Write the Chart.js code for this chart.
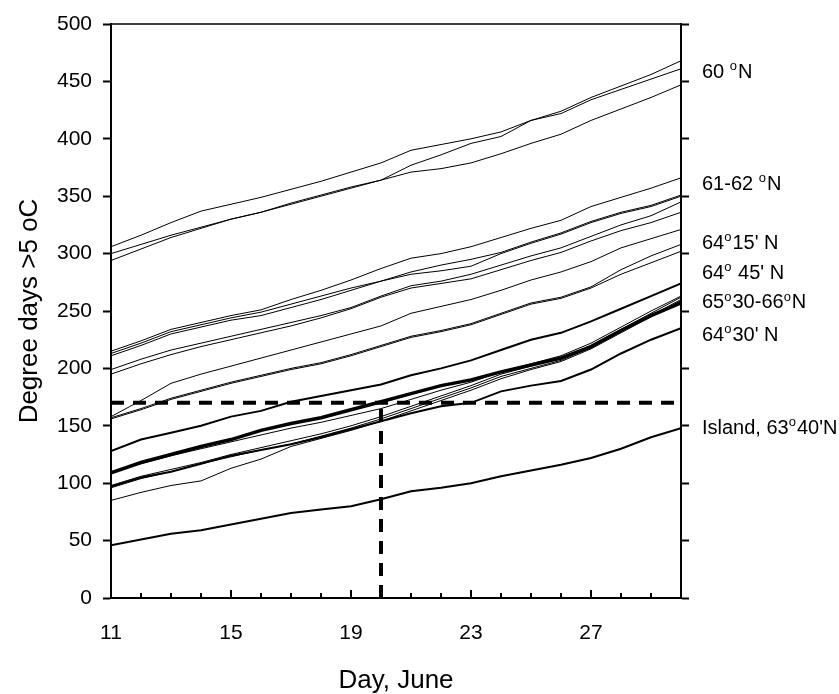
<!DOCTYPE html>
<html>
<head>
<meta charset="utf-8">
<title>Degree days</title>
<script src="https://cdn.jsdelivr.net/npm/chart.js@4.4.1/dist/chart.umd.min.js"></script>
<style>
  html, body { margin: 0; padding: 0; background: #fff; }
  #wrap { position: relative; width: 839px; height: 694px; }
</style>
</head>
<body>
<div id="wrap"><canvas id="degreeChart"></canvas></div>
<script>
// Days of June on the x axis
const days = [11, 12, 13, 14, 15, 16, 17, 18, 19, 20, 21, 22, 23, 24, 25, 26, 27, 28, 29, 30];
const dayLabels = [11, 15, 19, 23, 27];
const yTicks = [0, 50, 100, 150, 200, 250, 300, 350, 400, 450, 500];

// 60 N
const lat60a = [306, 316, 327, 337, 343, 349, 356, 363, 371, 379, 390, 395, 400, 406, 416, 424, 436, 446, 456, 468];
const lat60b = [300, 308, 316, 323, 330, 336, 344, 351, 358, 364, 377, 386, 396, 402, 416, 422, 434, 443, 452, 461];
const lat60c = [294, 304, 314, 322, 330, 336, 343, 350, 357, 364, 371, 374, 379, 387, 396, 404, 416, 426, 436, 447];
// 61-62 N
const lat61a = [215, 224, 234, 240, 246, 251, 260, 268, 277, 287, 296, 300, 306, 314, 322, 329, 341, 349, 357, 366];
const lat61b = [213, 222, 232, 238, 244, 249, 256, 263, 270, 276, 284, 290, 295, 301, 310, 318, 328, 336, 342, 351];
const lat61c = [211, 220, 230, 236, 242, 246, 253, 260, 268, 276, 282, 285, 289, 300, 309, 317, 327, 335, 341, 350];
const lat61d = [199, 208, 216, 222, 228, 234, 240, 246, 253, 263, 272, 276, 282, 290, 298, 305, 315, 325, 333, 345];
const lat61e = [195, 204, 212, 219, 225, 231, 237, 244, 252, 262, 270, 274, 278, 286, 294, 301, 311, 320, 327, 336];
// 64 15' N
const lat6415a = [158, 172, 187, 195, 202, 209, 216, 223, 230, 237, 248, 254, 260, 268, 277, 284, 293, 305, 313, 321];
const lat6415b = [157, 165, 174, 181, 188, 194, 200, 205, 212, 220, 228, 233, 239, 248, 257, 262, 271, 286, 298, 308];
const lat6415c = [156, 164, 173, 180, 187, 193, 199, 204, 211, 219, 227, 232, 238, 247, 256, 261, 270, 282, 292, 302];
// 64 45' N
const lat6445 = [128, 138, 144, 150, 158, 163, 171, 176, 181, 186, 194, 200, 207, 216, 225, 231, 241, 252, 263, 274];
// 65 30' - 66 N
const lat65mean = [109, 118, 125, 132, 138, 146, 152, 157, 164, 171, 178, 185, 190, 197, 203, 209, 219, 233, 246, 257];
const lat65a = [110, 117, 124, 130, 136, 142, 148, 153, 159, 165, 173, 181, 188, 197, 204, 211, 222, 236, 250, 263];
const lat65b = [98, 106, 112, 118, 125, 131, 137, 143, 150, 158, 167, 176, 185, 195, 202, 209, 220, 234, 248, 262];
const lat65c = [96, 104, 110, 117, 123, 129, 134, 141, 148, 156, 165, 174, 183, 193, 200, 207, 218, 232, 246, 260];
const lat65d = [85, 92, 98, 102, 113, 121, 132, 139, 146, 154, 163, 172, 181, 191, 199, 206, 217, 231, 245, 259];
// 64 30' N
const lat6430 = [97, 105, 110, 117, 124, 129, 134, 140, 147, 154, 161, 167, 170, 180, 185, 189, 199, 213, 225, 235];
// Island, 63 40' N
const island = [46, 51, 56, 59, 64, 69, 74, 77, 80, 86, 93, 96, 100, 106, 111, 116, 122, 130, 140, 148];

// guide: 170 degree days reached on 20 June
const guideDay = 20;
const guideValue = 170;

// right-hand labels, "^o" = raised small o
const rightLabels = ['60 ^oN', '61-62 ^oN', "64^o15' N", "64^o 45' N", '65^o30-66^oN', "64^o30' N", "Island, 63^o40'N"];

const FONT = "'Liberation Sans', Arial, sans-serif";

function toPoints(values) {
  return values.map((v, i) => ({ x: days[i], y: v }));
}

function lineSet(values, width) {
  return {
    data: toPoints(values),
    borderColor: '#000',
    borderWidth: width,
    pointRadius: 0,
    tension: 0,
    fill: false
  };
}

function guideSets() {
  const dash = {
    borderColor: '#000',
    borderWidth: 4,
    borderDash: [13, 9],
    pointRadius: 0,
    fill: false
  };
  return [
    Object.assign({ data: [{ x: days[0], y: guideValue }, { x: days[days.length - 1], y: guideValue }] }, dash),
    Object.assign({ data: [{ x: guideDay, y: 0 }, { x: guideDay, y: guideValue }] }, dash)
  ];
}

// top border, inward day ticks and the latitude labels
const framePlugin = {
  id: 'frame',
  afterDraw(chart) {
    const ctx = chart.ctx;
    const area = chart.chartArea;
    const xs = chart.scales.x;
    const ys = chart.scales.y;
    ctx.save();
    ctx.strokeStyle = '#000';
    ctx.lineWidth = 1.5;
    ctx.beginPath();
    ctx.moveTo(area.left, area.top);
    ctx.lineTo(area.right, area.top);
    ctx.stroke();

    ctx.lineWidth = 2;
    days.forEach(d => {
      const px = Math.round(xs.getPixelForValue(d));
      const len = dayLabels.includes(d) ? 8 : 5;
      ctx.beginPath();
      ctx.moveTo(px, area.bottom);
      ctx.lineTo(px, area.bottom - len);
      ctx.stroke();
    });

    const labelAt = [458, 360, 309, 283, 257, 229, 148];
    ctx.fillStyle = '#000';
    ctx.textBaseline = 'middle';
    rightLabels.forEach((txt, i) => {
      let x = area.right + 21;
      const y = ys.getPixelForValue(labelAt[i]);
      txt.split('^o').forEach((part, j) => {
        if (j > 0) {
          ctx.font = '13px ' + FONT;
          ctx.fillText('o', x, y - 6);
          x += ctx.measureText('o').width + 1;
        }
        ctx.font = '20px ' + FONT;
        ctx.fillText(part, x, y);
        x += ctx.measureText(part).width;
      });
    });
    ctx.restore();
  }
};

const datasets = [].concat(
  guideSets(),
  [lat60a, lat60b, lat60c, lat61a, lat61b, lat61c, lat61d, lat61e,
   lat6415a, lat6415b, lat6415c, lat65a, lat65b, lat65c, lat65d].map(v => lineSet(v, 1)),
  [lineSet(lat6445, 2), lineSet(lat6430, 2), lineSet(island, 2), lineSet(lat65mean, 3.5)]
);

Chart.defaults.color = '#000';
Chart.defaults.font.family = FONT;

new Chart(document.getElementById('degreeChart'), {
  type: 'line',
  data: { datasets },
  options: {
    responsive: true,
    maintainAspectRatio: false,
    animation: false,
    layout: { padding: { top: 24, left: 0, right: 0, bottom: 0 } },
    plugins: { legend: { display: false }, tooltip: { enabled: false } },
    scales: {
      x: {
        type: 'linear',
        min: days[0],
        max: days[days.length - 1],
        afterFit: s => { s.height = 96; },
        afterBuildTicks: s => { s.ticks = days.map(d => ({ value: d })); },
        ticks: {
          autoSkip: false,
          maxRotation: 0,
          padding: 23,
          font: { size: 21 },
          callback: v => (dayLabels.includes(v) ? String(v) : '')
        },
        grid: { drawOnChartArea: false, drawTicks: false },
        border: { display: true, color: '#000', width: 2 },
        title: { display: true, text: 'Day, June', font: { size: 26, lineHeight: 1 }, padding: { top: 0, bottom: 0 } }
      },
      y: {
        min: 0,
        max: 500,
        afterFit: s => { s.width = 111; },
        afterBuildTicks: s => { s.ticks = yTicks.map(v => ({ value: v })); },
        ticks: { padding: 11, font: { size: 21 } },
        grid: { drawOnChartArea: false, drawTicks: true, tickLength: 8, tickWidth: 2, tickColor: '#000' },
        border: { display: true, color: '#000', width: 2 },
        title: { display: true, text: 'Degree days >5 oC', font: { size: 26 }, padding: { top: 14, bottom: 0 } }
      },
      y2: {
        position: 'right',
        min: 0,
        max: 500,
        afterFit: s => { s.width = 158; },
        afterBuildTicks: s => { s.ticks = yTicks.map(v => ({ value: v })); },
        ticks: { callback: () => '' },
        grid: { drawOnChartArea: false, drawTicks: true, tickLength: 8, tickWidth: 2, tickColor: '#000' },
        border: { display: true, color: '#000', width: 2 }
      }
    }
  },
  plugins: [framePlugin]
});
</script>
</body>
</html>
